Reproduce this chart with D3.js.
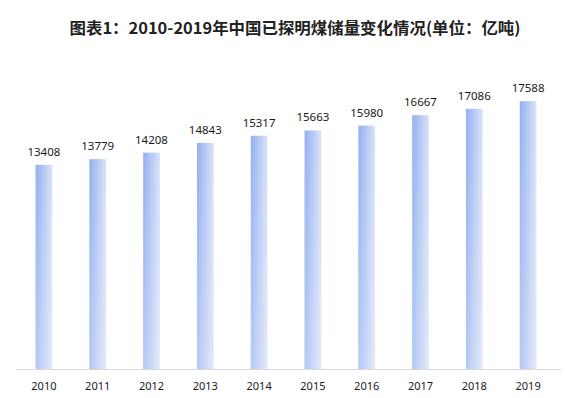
<!DOCTYPE html>
<html>
<head>
<meta charset="utf-8">
<script src="https://cdn.jsdelivr.net/npm/d3@7"></script>
<style>
  body { margin: 0; background: #fff; }
  svg { display: block; }
</style>
</head>
<body>
<svg id="chart" width="565" height="398"></svg>
<script>
// chart data
var years = ["2010", "2011", "2012", "2013", "2014", "2015", "2016", "2017", "2018", "2019"];
var reserves = [13408, 13779, 14208, 14843, 15317, 15663, 15980, 16667, 17086, 17588];
var titleText = "图表1：2010-2019年中国已探明煤储量变化情况(单位：亿吨)";

var svg = d3.select("#chart");

// gradients for bars: darker blue on the left, fading to the right
var defs = svg.append("defs");
var grad = defs.append("linearGradient")
  .attr("id", "barGrad")
  .attr("x1", 0).attr("y1", 0)
  .attr("x2", 1).attr("y2", 0);
grad.append("stop").attr("offset", "0%").attr("stop-color", "#93b0ef");
grad.append("stop").attr("offset", "100%").attr("stop-color", "#d8e2fa");

var fade = defs.append("linearGradient")
  .attr("id", "barFade")
  .attr("x1", 0).attr("y1", 0)
  .attr("x2", 0).attr("y2", 1);
fade.append("stop").attr("offset", "0%").attr("stop-color", "#fff").attr("stop-opacity", 0);
fade.append("stop").attr("offset", "100%").attr("stop-color", "#fff").attr("stop-opacity", 0.3);

// scales
var x = d3.scaleBand()
  .domain(years)
  .range([17, 555])
  .paddingInner(0.69)
  .paddingOuter(0.345);

var y = d3.scaleLinear()
  .domain([0, 20000])
  .range([369, 64.4]);

// title
svg.append("text")
  .attr("x", 295)
  .attr("y", 34)
  .attr("text-anchor", "middle")
  .attr("textLength", 451)
  .attr("lengthAdjust", "spacingAndGlyphs")
  .style("font-family", "'Noto Sans CJK SC', sans-serif")
  .style("font-size", "16px")
  .style("font-weight", "bold")
  .style("fill", "#222")
  .text(titleText);

// bars
var bars = svg.append("g").attr("class", "bars");

bars.selectAll("rect.bar")
  .data(reserves)
  .enter()
  .append("rect")
  .attr("class", "bar")
  .attr("x", function (d, i) { return x(years[i]); })
  .attr("y", function (d) { return y(d); })
  .attr("width", x.bandwidth())
  .attr("height", function (d) { return y(0) - y(d); })
  .attr("fill", "url(#barGrad)");

bars.selectAll("rect.fade")
  .data(reserves)
  .enter()
  .append("rect")
  .attr("class", "fade")
  .attr("x", function (d, i) { return x(years[i]); })
  .attr("y", function (d) { return y(d); })
  .attr("width", x.bandwidth())
  .attr("height", function (d) { return y(0) - y(d); })
  .attr("fill", "url(#barFade)");

// value labels
svg.append("g")
  .selectAll("text")
  .data(reserves)
  .enter()
  .append("text")
  .attr("x", function (d, i) { return x(years[i]) + x.bandwidth() / 2; })
  .attr("y", function (d) { return y(d) - 9; })
  .attr("text-anchor", "middle")
  .style("font-family", "'Noto Sans', sans-serif")
  .style("font-size", "11.5px")
  .style("fill", "#1a1a1a")
  .text(function (d) { return d; });

// x axis
var xAxis = svg.append("g")
  .attr("transform", "translate(0," + y(0) + ")")
  .call(d3.axisBottom(x).tickSize(0).tickPadding(13));

xAxis.select(".domain").remove();
xAxis.append("line")
  .attr("x1", 16).attr("x2", 561)
  .attr("y1", 0.5).attr("y2", 0.5)
  .attr("stroke", "#d9d9d9");

xAxis.selectAll(".tick text")
  .style("font-family", "'Noto Sans', sans-serif")
  .style("font-size", "11px")
  .style("fill", "#1a1a1a");
</script>
</body>
</html>
